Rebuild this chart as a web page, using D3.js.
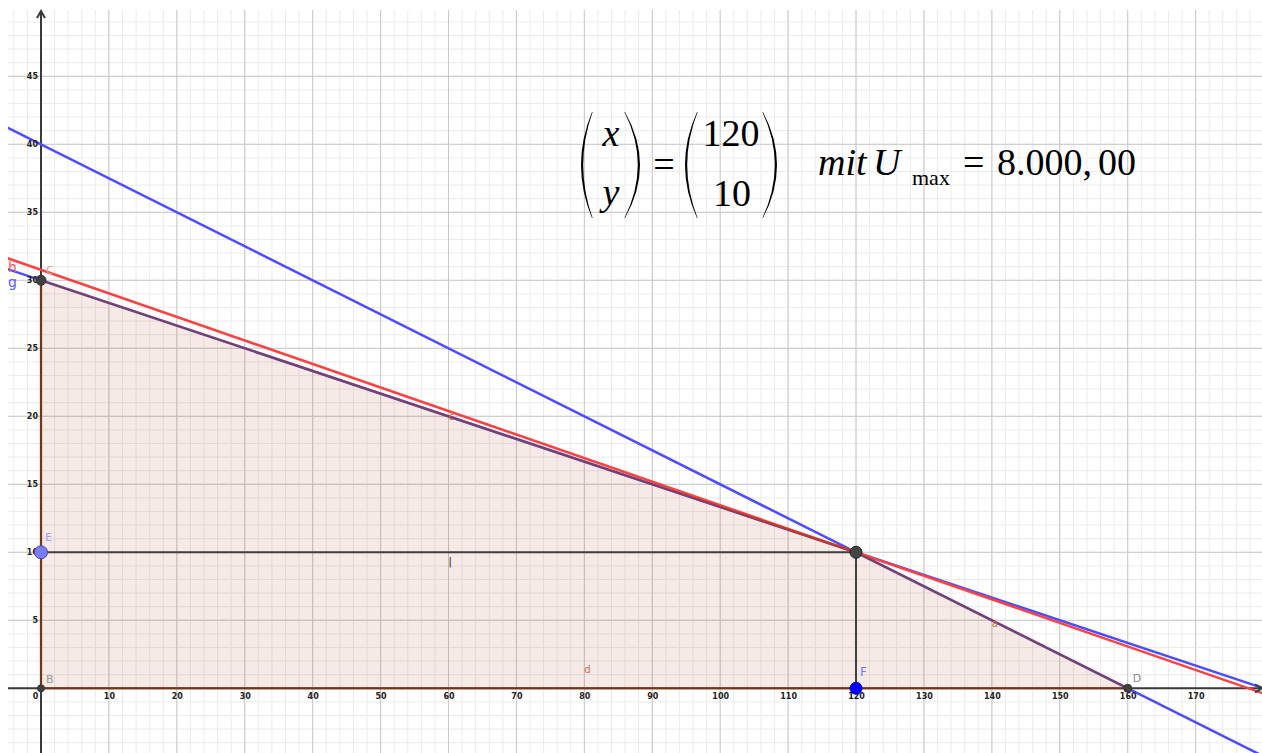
<!DOCTYPE html>
<html>
<head>
<meta charset="utf-8">
<script src="https://cdn.jsdelivr.net/npm/d3@7"></script>
<style>
  body { margin: 0; background: #fff; }
  svg { display: block; }
  .tick text { font-family: "DejaVu Sans", sans-serif; font-size: 8px; font-weight: bold; fill: #222; }
  .lbl { font-family: "DejaVu Sans", sans-serif; font-size: 11px; }
  .mathTxt { font-family: "Liberation Serif", "Times New Roman", serif; fill: #000; }
</style>
</head>
<body>
<div id="chart"></div>
<script>
////////////////////////////////////////////////////////////////
// Data (values in axis units)

// axis tick labels
var xTickValues = [0, 10, 20, 30, 40, 50, 60, 70, 80, 90, 100, 110, 120, 130, 140, 150, 160, 170];
var yTickValues = [5, 10, 15, 20, 25, 30, 35, 40, 45];

// feasible region (polygon B, C, G, D)
var regionPts = [[0, 0], [0, 30], [120, 10], [160, 0]];

// straight lines written as a*x + b*y = c
var blueLineF = { a: 1, b: 4, c: 160 };
var blueLineG = { a: 1, b: 6, c: 180 };
var redLineH = { a: 45, b: 260, c: 8000 };

// helper segments through the optimum
var helperH = [[0, 10], [120, 10]];
var helperV = [[120, 10], [120, 0]];

// named points
var pointNames = ["B", "C", "D", "E", "F", "G"];
var pointCoords = [[0, 0], [0, 30], [160, 0], [0, 10], [120, 0], [120, 10]];

// object labels (name, x, y)
var objLabels = [["c", 60, 19.7], ["d", 80, 1.1], ["a", 140, 4.5], ["i", 60, 9.1]];

////////////////////////////////////////////////////////////////
// Basic parameters

var svgWidth = 1262;
var svgHeight = 753;
var view = { left: 8, top: 10, right: 1262, bottom: 753 };

var svg = d3.select("#chart")
    .append("svg")
    .attr("width", svgWidth)
    .attr("height", svgHeight);

// Scales (x: 6.79 px per unit, y: 13.6 px per unit)
var x = d3.scaleLinear().domain([0, 160]).range([41, 1127.7]);
var y = d3.scaleLinear().domain([0, 10]).range([688.3, 552.3]);

var xMin = x.invert(view.left), xMax = x.invert(view.right);
var yMin = y.invert(view.bottom), yMax = y.invert(view.top);

svg.append("clipPath").attr("id", "clip")
    .append("rect")
    .attr("x", view.left).attr("y", view.top)
    .attr("width", view.right - view.left).attr("height", view.bottom - view.top);

var plot = svg.append("g").attr("clip-path", "url(#clip)");

////////////////////////////////////////////////////////////////
// Grid

var minorX = d3.range(Math.ceil(xMin / 2) * 2, xMax, 2);
var minorY = d3.range(Math.ceil(yMin), yMax, 1);
var majorX = minorX.filter(d => d % 10 === 0);
var majorY = minorY.filter(d => d % 5 === 0);

plot.selectAll(".minX").data(minorX).enter().append("line")
    .attr("x1", d => x(d)).attr("x2", d => x(d))
    .attr("y1", view.top).attr("y2", view.bottom)
    .attr("stroke", "#ebebeb").attr("stroke-width", 1);
plot.selectAll(".minY").data(minorY).enter().append("line")
    .attr("x1", view.left).attr("x2", view.right)
    .attr("y1", d => y(d)).attr("y2", d => y(d))
    .attr("stroke", "#ebebeb").attr("stroke-width", 1);
plot.selectAll(".majX").data(majorX).enter().append("line")
    .attr("x1", d => x(d)).attr("x2", d => x(d))
    .attr("y1", view.top).attr("y2", view.bottom)
    .attr("stroke", "#c8c8c8").attr("stroke-width", 1);
plot.selectAll(".majY").data(majorY).enter().append("line")
    .attr("x1", view.left).attr("x2", view.right)
    .attr("y1", d => y(d)).attr("y2", d => y(d))
    .attr("stroke", "#c8c8c8").attr("stroke-width", 1);

////////////////////////////////////////////////////////////////
// Feasible region fill

var lineGen = d3.line().x(d => x(d[0])).y(d => y(d[1]));
var polyGen = d3.line().x(d => x(d[0])).y(d => y(d[1])).curve(d3.curveLinearClosed);

plot.append("path")
    .datum(regionPts)
    .attr("d", polyGen)
    .attr("fill", "rgb(153,51,0)")
    .attr("fill-opacity", 0.1)
    .attr("stroke", "none");

////////////////////////////////////////////////////////////////
// Axes

plot.append("line")
    .attr("x1", view.left).attr("x2", view.right)
    .attr("y1", y(0)).attr("y2", y(0))
    .attr("stroke", "#3a3a3a").attr("stroke-width", 2);
plot.append("line")
    .attr("x1", x(0)).attr("x2", x(0))
    .attr("y1", view.top + 2).attr("y2", view.bottom)
    .attr("stroke", "#3a3a3a").attr("stroke-width", 2);
// arrow heads
svg.append("path")
    .attr("d", `M${x(0) - 4},${view.top + 8} L${x(0)},${view.top + 1} L${x(0) + 4},${view.top + 8}`)
    .attr("fill", "none").attr("stroke", "#3a3a3a").attr("stroke-width", 2);
svg.append("path")
    .attr("d", `M${view.right - 7},${y(0) - 4} L${view.right},${y(0)} L${view.right - 7},${y(0) + 4}`)
    .attr("fill", "none").attr("stroke", "#3a3a3a").attr("stroke-width", 2);

var xAxis = svg.append("g")
    .attr("transform", `translate(0, ${y(0)})`)
    .call(d3.axisBottom(x).tickValues(xTickValues).tickSize(0).tickPadding(5));
xAxis.select(".domain").remove();
xAxis.selectAll(".tick").filter(d => d === 0).select("text").attr("dx", -6);

var yAxis = svg.append("g")
    .attr("transform", `translate(${x(0)}, 0)`)
    .call(d3.axisLeft(y).tickValues(yTickValues).tickSize(0).tickPadding(3));
yAxis.select(".domain").remove();

////////////////////////////////////////////////////////////////
// Lines a*x + b*y = c, drawn across the visible range

function lineEnds(L) {
    var x0 = xMin - 5, x1 = xMax + 5;
    return [[x0, (L.c - L.a * x0) / L.b], [x1, (L.c - L.a * x1) / L.b]];
}

plot.append("path").datum(lineEnds(blueLineF))
    .attr("d", lineGen)
    .attr("stroke", "#4d4dff").attr("stroke-width", 2.5).attr("fill", "none");
plot.append("path").datum(lineEnds(blueLineG))
    .attr("d", lineGen)
    .attr("stroke", "#4d4dff").attr("stroke-width", 2.5).attr("fill", "none");
plot.append("path").datum(lineEnds(redLineH))
    .attr("d", lineGen)
    .attr("stroke", "#ff4040").attr("stroke-width", 2.5).attr("fill", "none");

// helper segments
plot.append("path").datum(helperH).attr("d", lineGen)
    .attr("stroke", "#404040").attr("stroke-width", 2).attr("fill", "none");
plot.append("path").datum(helperV).attr("d", lineGen)
    .attr("stroke", "#404040").attr("stroke-width", 2).attr("fill", "none");

// region edges on top
plot.append("path")
    .datum(regionPts)
    .attr("d", polyGen)
    .attr("fill", "none")
    .attr("stroke", "rgb(153,51,0)")
    .attr("stroke-opacity", 0.55)
    .attr("stroke-width", 2.5);

////////////////////////////////////////////////////////////////
// Points

var pointStyle = {
    B: { r: 3.5, fill: "#404040", stroke: "#303030" },
    C: { r: 5, fill: "#404040", stroke: "#303030" },
    D: { r: 4, fill: "#404040", stroke: "#303030" },
    E: { r: 6.5, fill: "#7b7bff", stroke: "#4a4a9a" },
    F: { r: 6, fill: "#0000ff", stroke: "#0000cc" },
    G: { r: 6, fill: "#444444", stroke: "#222" }
};
svg.selectAll(".pt").data(pointNames).enter().append("circle")
    .attr("cx", (d, i) => x(pointCoords[i][0]))
    .attr("cy", (d, i) => y(pointCoords[i][1]))
    .attr("r", d => pointStyle[d].r)
    .attr("fill", d => pointStyle[d].fill)
    .attr("stroke", d => pointStyle[d].stroke)
    .attr("stroke-width", 1);

// point labels (G has none shown)
var ptLabelColor = { B: "#999", C: "#e39a9a", D: "#888", E: "#a0a0ff", F: "#7777ff" };
var ptLabelOff = { B: [5, -5], C: [5, -6], D: [5, -6], E: [4, -11], F: [4, -12] };
svg.selectAll(".ptl").data(pointNames.filter(d => d !== "G")).enter().append("text")
    .attr("class", "lbl")
    .attr("x", d => x(pointCoords[pointNames.indexOf(d)][0]) + ptLabelOff[d][0])
    .attr("y", d => y(pointCoords[pointNames.indexOf(d)][1]) + ptLabelOff[d][1])
    .attr("fill", d => ptLabelColor[d])
    .style("font-size", d => (d === "F" ? "12px" : "11px"))
    .text(d => d);

// object labels
svg.selectAll(".ol").data(objLabels).enter().append("text")
    .attr("class", "lbl")
    .attr("x", d => x(d[1]))
    .attr("y", d => y(d[2]))
    .attr("fill", d => d[0] === "i" ? "#222" : "#c07050")
    .style("font-size", "10px")
    .text(d => d[0] === "i" ? "|" : d[0]);

// line labels at left border
svg.append("text").attr("class", "lbl").attr("x", 8).attr("y", 272)
    .style("font-size", "14px").attr("fill", "#ff5a5a").text("h");
svg.append("text").attr("class", "lbl").attr("x", 8).attr("y", 287)
    .style("font-size", "14px").attr("fill", "#5a5aff").text("g");

////////////////////////////////////////////////////////////////
// Formula text

function paren(xTop, xFar, yTop, yBot, w) {
    var ym = (yTop + yBot) / 2;
    var dir = xFar < xTop ? 1 : -1;
    return `M${xTop},${yTop} Q${2 * xFar - xTop},${ym} ${xTop},${yBot}` +
        ` L${xTop + dir * 0.6},${yBot} Q${2 * (xFar + dir * w) - xTop - dir * 0.6},${ym} ${xTop + dir * 0.6},${yTop} Z`;
}
var math = svg.append("g");
[[592, 581], [625, 640], [697, 685], [763, 777]].forEach(function (p) {
    math.append("path").attr("d", paren(p[0], p[1], 112, 218, 2.2)).attr("fill", "#000");
});

math.append("text").attr("class", "mathTxt").attr("x", 611).attr("y", 146)
    .attr("text-anchor", "middle").attr("font-size", 38).attr("font-style", "italic").text("x");
math.append("text").attr("class", "mathTxt").attr("x", 611).attr("y", 205)
    .attr("text-anchor", "middle").attr("font-size", 38).attr("font-style", "italic").text("y");
math.append("text").attr("class", "mathTxt").attr("x", 664).attr("y", 177)
    .attr("text-anchor", "middle").attr("font-size", 38).text("=");
math.append("text").attr("class", "mathTxt").attr("x", 731).attr("y", 146)
    .attr("text-anchor", "middle").attr("font-size", 38).text("120");
math.append("text").attr("class", "mathTxt").attr("x", 732).attr("y", 206)
    .attr("text-anchor", "middle").attr("font-size", 38).text("10");
math.append("text").attr("class", "mathTxt").attr("x", 818).attr("y", 175)
    .attr("font-size", 38).attr("font-style", "italic").text("mit");
math.append("text").attr("class", "mathTxt").attr("x", 873).attr("y", 175)
    .attr("font-size", 38).attr("font-style", "italic").text("U");
math.append("text").attr("class", "mathTxt").attr("x", 912).attr("y", 185)
    .attr("font-size", 22).text("max");
math.append("text").attr("class", "mathTxt").attr("x", 963).attr("y", 175)
    .attr("font-size", 38).text("=");
var val = math.append("text").attr("class", "mathTxt").attr("x", 997).attr("y", 175)
    .attr("font-size", 38);
val.append("tspan").text("8.000,");
val.append("tspan").attr("dx", 6).text("00");
</script>
</body>
</html>
